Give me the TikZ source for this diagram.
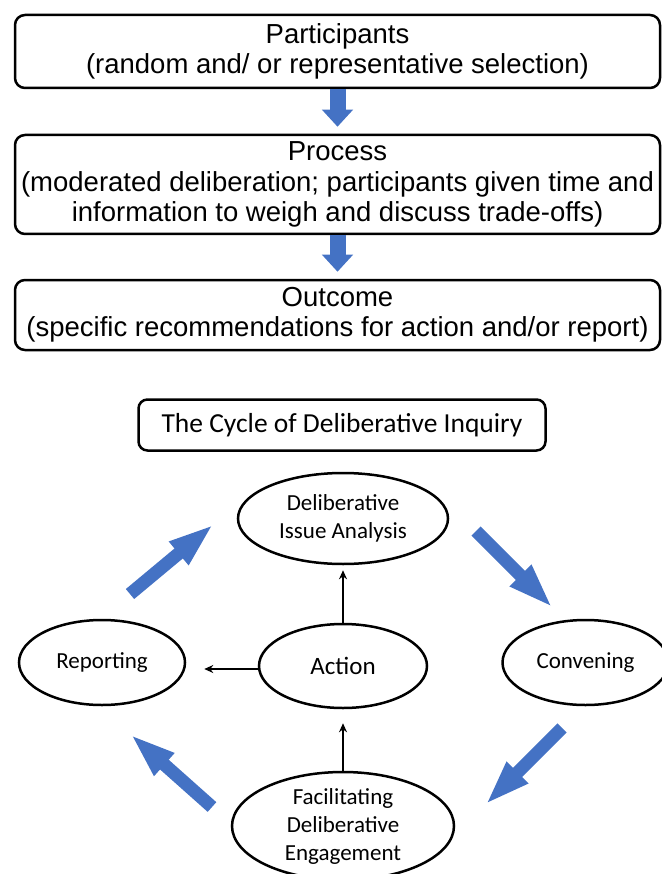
\documentclass[tikz,border=0pt]{standalone}
\usepackage{fontspec}
\setmainfont{Liberation Sans}
\newfontfamily\calibri{Carlito}
\usepackage{xcolor}
\definecolor{cFlow}{HTML}{4472C4}
\usepackage{tikz}
\usetikzlibrary{arrows.meta,shapes.geometric}
\tikzset{
  node-box/.style={draw=black,line width=2.5pt,rounded corners=10pt,
    minimum width=645pt,align=center,inner sep=0pt,
    font=\fontsize{27.5}{30.5}\selectfont},
  node-title/.style={draw=black,line width=2.5pt,rounded corners=9pt,
    minimum width=407pt,minimum height=51pt,inner sep=0pt,
    font=\calibri\fontsize{27.5}{33}\selectfont},
  node-stage/.style={draw=black,line width=2.5pt,ellipse,inner sep=0pt,
    align=center,font=\calibri\fontsize{23}{28}\selectfont},
  arrow-flow/.style={-{Triangle[length=17pt,width=30pt]},line width=16pt,
    draw=cFlow,shorten >=7pt},
  arrow-cycle/.style={-{Triangle[length=46pt,width=27pt]},line width=13pt,
    draw=cFlow},
  arrow-thin/.style={-{Stealth[length=9pt,width=8pt]},line width=2pt},
}

\begin{document}
\begin{tikzpicture}[x=1pt,y=-1pt]
  \useasboundingbox (0,0) rectangle (661,874);
  % participants -> process -> outcome
  \node[node-box,minimum height=73pt] (part) at (337.5,51.5)
    {Participants\\(random and/ or representative selection)};
  \node[node-box,minimum height=99pt] (proc) at (337.5,184.5)
    {Process\\(moderated deliberation; participants given time and\\information to weigh and discuss trade-offs)};
  \node[node-box,minimum height=70pt] (outc) at (337.5,315)
    {Outcome\\(specific recommendations for action and/or report)};
  \draw[arrow-flow] (part.south) -- (proc.north);
  \draw[arrow-flow] (proc.south) -- (outc.north);

  % the cycle
  \node[node-title] (title) at (342,425) {The Cycle of Deliberative Inquiry};
  \node[node-stage,minimum width=210pt,minimum height=91pt] (dia) at (343,518.5)
    {Deliberative\\Issue Analysis};
  \node[node-stage,minimum width=166pt,minimum height=85pt] (rep) at (102,662.5) {Reporting};
  \node[node-stage,minimum width=168pt,minimum height=84pt,
    font=\calibri\fontsize{25}{30}\selectfont] (act) at (343,666) {Action};
  \node[node-stage,minimum width=166pt,minimum height=85pt] (con) at (585.5,662.5) {Convening};
  \node[node-stage,minimum width=222pt,minimum height=108pt] (fac) at (343,826)
    {Facilitating\\Deliberative\\Engagement};

  \draw[arrow-thin,shorten >=5pt] (act.north) -- (act.north |- dia.south);
  \draw[arrow-thin,shorten >=18pt] ([yshift=-3pt]act.west) -- ([yshift=-3pt]act.west -| rep.east);
  \draw[arrow-thin,shorten >=14pt] (fac.north) -- (fac.north |- act.south);

  \coordinate (c1a) at (130,594); \coordinate (c1b) at (214,524);
  \coordinate (c2a) at (476,531); \coordinate (c2b) at (553,608);
  \coordinate (c3a) at (562,728); \coordinate (c3b) at (485,805);
  \coordinate (c4a) at (212,807); \coordinate (c4b) at (130,734);
  \draw[arrow-cycle] (c1a) -- (c1b);
  \draw[arrow-cycle] (c2a) -- (c2b);
  \draw[arrow-cycle] (c3a) -- (c3b);
  \draw[arrow-cycle] (c4a) -- (c4b);
\end{tikzpicture}
\end{document}
